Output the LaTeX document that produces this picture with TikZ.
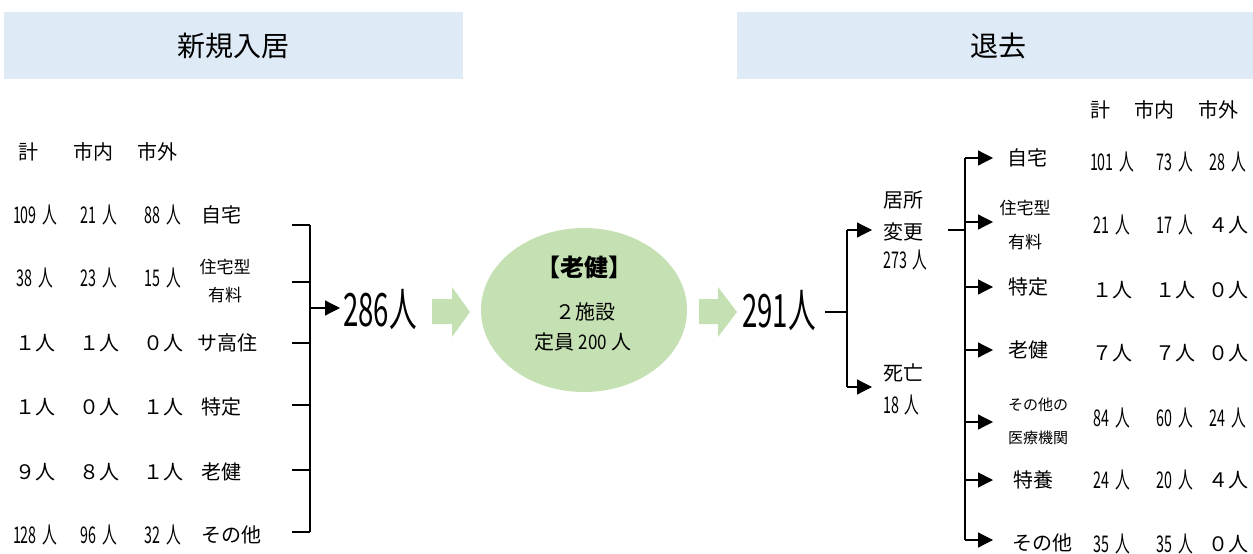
\documentclass[tikz,border=0pt]{standalone}
\usepackage{fontspec}
\setmainfont{Noto Sans CJK JP}
\usepackage{graphicx}
\usetikzlibrary{arrows.meta,shapes.geometric}
\tikzset{>={Triangle[length=15pt,width=15pt]}}
\definecolor{headblue}{HTML}{DEEAF6}
\definecolor{lgreen}{HTML}{C5E0B3}
\newcommand\nr[1]{{\fontsize{23}{28}\selectfont
  \scalebox{.62}[1]{#1}\hspace{5.5pt}\scalebox{.64}[1]{人}}}
\newcommand\bignr[1]{\scalebox{.6}[1]{#1人}}
\tikzset{
  txt/.style={inner sep=0pt,font=\fontsize{20}{28}\selectfont},
  smalltxt/.style={inner sep=0pt,align=center,font=\fontsize{17}{28}\selectfont},
  bigtxt/.style={inner sep=0pt,font=\fontsize{46}{50}\selectfont},
  headbar/.style={fill=headblue},
  flow/.style={fill=lgreen},
  wire/.style={line width=1.2pt}
}

\begin{document}
\begin{tikzpicture}[x=1pt,y=-1pt]
\useasboundingbox (0,0) rectangle (1253,554);
% header bars
\fill[headbar] (4,12) rectangle (463,79);
\fill[headbar] (737,12) rectangle (1253,79);
\node[txt,font=\fontsize{28}{30}\selectfont] (inhead) at (233,46) {新規入居};
\node[txt,font=\fontsize{28}{30}\selectfont] (outhead) at (998,46) {退去};

% left table
\node[txt] (lk) at (28,152) {計};
\node[txt] (lin) at (93,152) {市内};
\node[txt] (lout) at (157,152) {市外};
\foreach \y/\t/\k/\a/\b [count=\i] in {
  215/225/{\nr{109}}/{\nr{21}}/{\nr{88}},
  278/282/{\nr{38}}/{\nr{23}}/{\nr{15}},
  343/343/１人/１人/０人,
  407/405/１人/０人/１人,
  472/470/９人/８人/１人,
  535/532/{\nr{128}}/{\nr{96}}/{\nr{32}}}{
  \node[txt] (lk\i) at (35,\y) {\k};
  \node[txt] (la\i) at (99,\y) {\a};
  \node[txt] (lb\i) at (163,\y) {\b};
  \coordinate (lt\i) at (292,\t);
  \coordinate (lv\i) at (310,\t);
  \draw[wire] (lt\i) -- (lv\i);
}
\node[txt,anchor=west] (ls1) at (201,215) {自宅};
\node[smalltxt] (ls2) at (225,281) {住宅型\\有料};
\node[txt,anchor=west] (ls3) at (197,343) {サ高住};
\node[txt,anchor=west] (ls4) at (201,407) {特定};
\node[txt,anchor=west] (ls5) at (201,472) {老健};
\node[txt,anchor=west] (ls6) at (201,535) {その他};
\draw[wire] (lv1) -- (lv6);
\coordinate (lj) at (310,308);
\node[bigtxt,anchor=west,inner xsep=3pt] (inno) at (340,310) {\bignr{286}};
\draw[wire,->] (lj) -- (lj -| inno.west);

% facility
\fill[flow] (432,299) -- (452,299) -- (452,287) -- (470,312)
  -- (452,337) -- (452,324) -- (432,324) -- cycle;
\node[ellipse,flow,minimum width=206pt,minimum height=164pt,inner sep=0pt]
  (roken) at (584,310) {};
\node[txt,font=\fontsize{24}{26}\selectfont\bfseries] (rktitle) at (584,267) {【老健】};
\node[txt] (rkfac) at (585,312) {２施設};
\node[txt,font=\fontsize{20}{22}\selectfont] (rkcap) at (583,342)
  {定員 \scalebox{.85}[1]{200} 人};
\fill[flow] (699,299) -- (718,299) -- (718,287) -- (737,312)
  -- (718,337) -- (718,324) -- (699,324) -- cycle;
\node[bigtxt,anchor=west] (outno) at (742,311) {\bignr{291}};

% leaving
\coordinate (rs) at (825,312);
\coordinate (rj) at (847,312);
\coordinate (ra) at (847,230);
\coordinate (rb) at (847,387);
\draw[wire] (rs) -- (rj);
\draw[wire] (ra) -- (rb);
\node[txt,anchor=west] (move1) at (883,200) {居所};
\node[txt,anchor=west] (move2) at (883,232) {変更};
\node[txt,anchor=west] (move3) at (883,260) {\nr{273}};
\node[txt,anchor=west] (dead1) at (883,373) {死亡};
\node[txt,anchor=west] (dead2) at (883,405) {\nr{18}};
\draw[wire,->] (ra) -- ++(25,0);
\draw[wire,->] (rb) -- ++(25,0);

% destinations
\coordinate (ms) at (948,230);
\coordinate (mj) at (965,230);
\draw[wire] (ms) -- (mj);
\node[txt] (rk) at (1100,110) {計};
\node[txt] (rin) at (1154,110) {市内};
\node[txt] (rout) at (1218,110) {市外};
\foreach \y/\n/\k/\a/\b [count=\i] in {
  158/162/{\nr{101}}/{\nr{73}}/{\nr{28}},
  222/225/{\nr{21}}/{\nr{17}}/４人,
  287/290/１人/１人/０人,
  350/353/７人/７人/０人,
  422/418/{\nr{84}}/{\nr{60}}/{\nr{24}},
  480/480/{\nr{24}}/{\nr{20}}/４人,
  540/544/{\nr{35}}/{\nr{35}}/０人}{
  \coordinate (rv\i) at (965,\y);
  \coordinate (rt\i) at (993,\y);
  \draw[wire,->] (rv\i) -- (rt\i);
  \node[txt] (rk\i) at (1112,\n) {\k};
  \node[txt] (ra\i) at (1175,\n) {\a};
  \node[txt] (rb\i) at (1228,\n) {\b};
}
\draw[wire] (rv1) -- (rv7);
\node[txt,anchor=west] (rs1) at (1007,158) {自宅};
\node[smalltxt,font=\fontsize{17}{34}\selectfont] (rs2) at (1025,225) {住宅型\\有料};
\node[txt,anchor=west] (rs3) at (1008,287) {特定};
\node[txt,anchor=west] (rs4) at (1008,350) {老健};
\node[smalltxt,font=\fontsize{15}{33}\selectfont] (rs5) at (1038,421) {その他の\\医療機関};
\node[txt,anchor=west] (rs6) at (1013,480) {特養};
\node[txt,anchor=west] (rs7) at (1012,543) {その他};
\end{tikzpicture}
\end{document}
